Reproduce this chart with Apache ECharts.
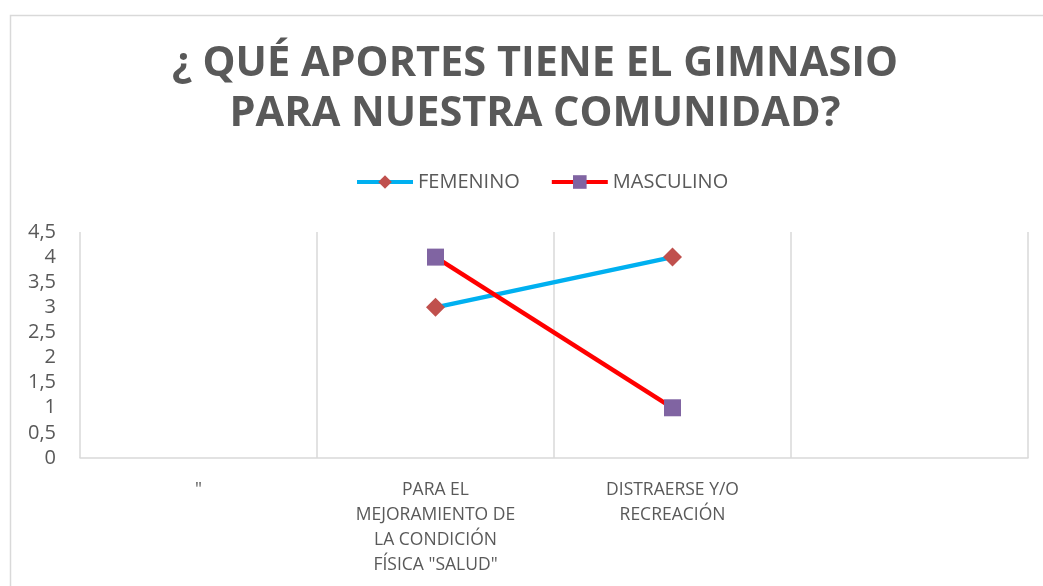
<!DOCTYPE html>
<html>
<head>
<meta charset="utf-8">
<script src="https://cdn.jsdelivr.net/npm/echarts@6/dist/echarts.min.js"></script>
<style>html,body{margin:0;padding:0;background:#fff;}#c{width:1043px;height:586px;}</style>
</head>
<body>
<div id="c"></div>
<script>
const categories = ['"', 'PARA EL\nMEJORAMIENTO DE\nLA CONDICIÓN\nFÍSICA "SALUD"', 'DISTRAERSE Y/O\nRECREACIÓN', ''];
const femenino = [null, 3, 4, null];
const masculino = [null, 4, 1, null];
const titleText = '¿ QUÉ APORTES TIENE EL GIMNASIO\nPARA NUESTRA COMUNIDAD?';

const chart = echarts.init(document.getElementById('c'), null, {renderer: 'canvas'});
chart.setOption({
  backgroundColor: '#fff',
  animation: false,
  graphic: [{
    type: 'rect', left: 8, top: 13, shape: {width: 1060, height: 600},
    style: {fill: 'none', stroke: '#d9d9d9', lineWidth: 1.5}, silent: true, z: -1
  }],
  title: {
    text: titleText, left: 530, textAlign: 'center', top: 34,
    textStyle: {fontFamily: 'Open Sans', fontWeight: 'bold', fontSize: 41.5, color: '#595959', lineHeight: 50}
  },
  legend: {
    top: 167, left: 350, itemWidth: 56, itemHeight: 17, itemGap: 30,
    lineStyle: {width: 4},
    textStyle: {fontFamily: 'Open Sans', fontSize: 20, color: '#595959'},
    data: ['FEMENINO', 'MASCULINO']
  },
  grid: {left: 80, right: 15, top: 232, bottom: 128, containLabel: false},
  xAxis: {
    type: 'category', data: categories, boundaryGap: true,
    axisLine: {show: true, lineStyle: {color: '#d9d9d9', width: 1.5}},
    axisTick: {show: false},
    splitLine: {show: true, lineStyle: {color: '#d9d9d9', width: 1.5}},
    axisLabel: {interval: 0, fontFamily: 'Open Sans', fontSize: 17.5, color: '#595959', lineHeight: 25, margin: 20}
  },
  yAxis: {
    type: 'value', min: 0, max: 4.5, interval: 0.5,
    axisLine: {show: false}, axisTick: {show: false}, splitLine: {show: false},
    axisLabel: {fontFamily: 'Open Sans', fontSize: 20, color: '#595959', margin: 24,
      formatter: v => String(v).replace('.', ',')}
  },
  series: [{
    name: 'FEMENINO', type: 'line', data: femenino, symbol: 'diamond', symbolSize: 19,
    lineStyle: {color: '#00B0F0', width: 4.5}, itemStyle: {color: '#C0504D'}, color: '#00B0F0'
  }, {
    name: 'MASCULINO', type: 'line', data: masculino, symbol: 'rect', symbolSize: 17,
    lineStyle: {color: '#FF0000', width: 4.5}, itemStyle: {color: '#8064A2'}, color: '#FF0000'
  }]
});
</script>
</body>
</html>
